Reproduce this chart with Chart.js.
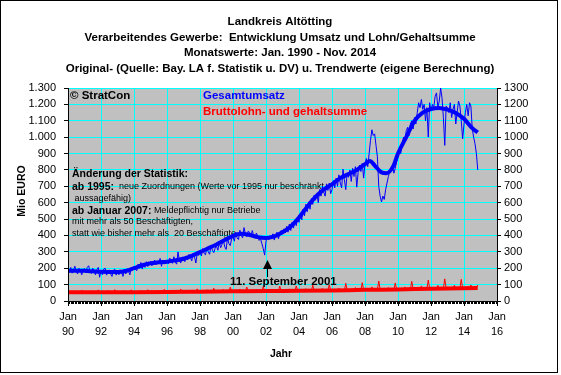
<!DOCTYPE html>
<html>
<head>
<meta charset="utf-8">
<script src="https://cdn.jsdelivr.net/npm/chart.js@4"></script>
<style>
  html, body { margin: 0; padding: 0; background: #fff; }
  #chart { display: block; }
</style>
</head>
<body>
<canvas id="chart" width="561" height="375"></canvas>
<script>
// Monatswerte Gesamtumsatz (Mio EURO), Jan 1990 - Nov 2014
const startYear = 1990;
const umsatz = [
  195,175,205,170,190,212,180,165,200,185,160,192,
  198,172,205,215,180,168,200,178,160,192,205,145,
  185,160,195,200,158,176,190,165,150,188,195,158,
  180,160,190,175,150,195,165,198,182,160,205,192,
  210,195,185,225,200,235,195,225,205,240,210,228,
  240,215,235,250,222,245,230,260,212,248,225,240,
  250,228,262,240,230,270,238,225,300,245,232,268,
  262,240,275,250,285,265,245,290,268,232,292,278,
  300,275,320,290,282,330,300,285,340,310,295,322,
  335,310,358,325,345,372,330,315,385,350,338,380,
  390,365,420,385,375,432,400,385,448,410,392,425,
  420,395,430,400,385,415,398,370,380,350,320,280,
  365,390,375,400,385,410,372,400,420,380,405,430,
  410,440,415,455,420,470,430,480,445,495,460,510,
  480,530,495,560,520,590,545,605,560,625,590,645,
  615,655,600,680,640,700,665,640,715,675,720,655,
  680,735,690,750,700,770,720,690,805,740,680,780,
  755,800,730,810,760,820,695,785,830,790,840,750,
  840,870,820,900,980,1045,1010,1020,950,880,700,640,
  605,640,620,680,720,760,790,800,830,780,810,850,
  880,920,900,960,1000,980,1040,1060,1010,1080,1100,1050,
  1120,1080,1150,1210,1180,1230,1170,1200,1100,1180,1000,1210,
  1160,1200,1180,1250,1270,1180,1220,1300,1240,1120,950,1190,
  1180,1150,1210,1120,1170,1200,1080,1150,1220,1190,1100,990,
  1080,1150,1200,1130,1210,1190,1050,1000,960,900,800
];

// Monatswerte Bruttolohn- und Gehaltsumme (Mio EURO)
const lohn = [
  50,49,51,50,50,62,51,50,50,51,66,55,
  51,50,52,51,51,63,52,51,51,52,68,56,
  52,51,52,52,53,64,53,52,52,53,69,56,
  52,51,52,52,52,63,52,51,52,52,68,55,
  52,51,53,52,53,64,53,52,53,53,69,56,
  53,52,53,53,54,66,54,53,54,54,71,57,
  53,52,54,53,54,66,54,53,54,54,72,57,
  54,53,54,54,55,67,55,54,55,55,74,58,
  55,54,55,55,56,69,56,55,56,56,78,59,
  56,55,56,56,57,70,57,56,57,57,84,60,
  57,56,57,57,58,72,58,57,58,58,85,61,
  58,57,58,58,59,72,59,58,59,59,88,62,
  58,57,58,59,59,73,59,58,59,60,90,62,
  59,58,59,59,60,74,60,59,60,60,92,63,
  60,59,60,60,61,75,61,60,61,61,96,64,
  60,59,61,61,62,76,62,61,62,62,100,65,
  61,60,62,62,63,78,63,62,63,63,108,66,
  63,62,64,64,65,82,65,64,66,66,112,68,
  66,65,67,67,68,86,68,67,69,69,122,71,
  68,66,67,66,67,82,66,65,66,67,110,69,
  67,66,68,68,69,86,70,69,70,71,120,73,
  71,70,72,72,73,92,73,72,74,74,128,76,
  73,72,74,74,75,95,75,74,76,76,135,78,
  74,73,75,75,76,96,76,75,77,77,132,79,
  75,74,76,76,77,98,77,76,78,78,98
];

// Trendwerte (eigene Berechnung)
const trendYears = [1990,1990.5,1991,1991.5,1992,1992.5,1993,1993.5,1994,1994.5,1995,1995.5,1996,1996.5,1997,1997.5,1998,1998.5,1999,1999.5,2000,2000.5,2001,2001.5,2002,2002.5,2003,2003.5,2004,2004.5,2005,2005.5,2006,2006.5,2007,2007.5,2008,2008.3,2008.6,2009,2009.3,2009.7,2010,2010.5,2011,2011.5,2012,2012.5,2013,2013.5,2014,2014.5,2014.83];
const trendUmsatz = [185,185,184,181,178,177,177,183,200,218,230,236,240,248,258,276,298,322,345,372,398,410,403,390,385,395,420,455,510,575,635,680,712,750,775,800,835,855,825,785,780,820,900,1000,1100,1150,1172,1178,1168,1148,1112,1055,1028];
const trendLohnYears = [1990,1992,1994,1996,1998,2000,2002,2004,2006,2008,2010,2012,2014.83];
const trendLohn = [53,54,54,55,57,59,61,62,64,68,70,75,79];

const titleLines = [
  'Landkreis Altötting',
  'Verarbeitendes Gewerbe:  Entwicklung Umsatz und Lohn/Gehaltsumme',
  'Monatswerte: Jan. 1990 - Nov. 2014',
  'Original- (Quelle: Bay. LA f. Statistik u. DV) u. Trendwerte (eigene Berechnung)'
];

const FONT = '"Liberation Sans", Arial, sans-serif';
const monthPoints = (arr) => arr.map((v, i) => ({ x: startYear + i / 12, y: v }));
const pairPoints = (xs, ys) => xs.map((x, i) => ({ x: x, y: ys[i] }));

function fmtDe(v) {
  if (v >= 1000) return Math.floor(v / 1000) + '.' + String(v % 1000).padStart(3, '0');
  return String(v);
}

const frame = {
  id: 'frame',
  beforeDraw(chart) {
    const { ctx, chartArea: a } = chart;
    ctx.save();
    ctx.fillStyle = '#fff';
    ctx.fillRect(0, 0, chart.width, chart.height);
    ctx.fillStyle = '#c0c0c0';
    ctx.fillRect(a.left, a.top, a.right - a.left, a.bottom - a.top);
    ctx.restore();
  },
  beforeDatasetsDraw(chart) {
    const ctx = chart.ctx;
    ctx.save();
    ctx.textBaseline = 'middle';
    ctx.textAlign = 'left';
    ctx.fillStyle = '#000';
    ctx.font = 'bold 11.5px ' + FONT;
    ctx.fillText('© StratCon', 70, 96);
    ctx.fillStyle = '#0000ff';
    ctx.fillText('Gesamtumsatz', 203, 96);
    ctx.fillStyle = '#ff0000';
    ctx.fillText('Bruttolohn- und gehaltsumme', 203, 112);

    const bold = 'bold 10.5px ' + FONT;
    const norm = '9px ' + FONT;
    const lines = [
      [['Änderung der Statistik:', bold]],
      [['ab 1995:', bold], ['  neue Zuordnungen (Werte vor 1995 nur beschränkt', norm]],
      [[' aussagefähig)', norm]],
      [['ab Januar 2007:', bold], [' Meldepflichtig nur Betriebe', norm]],
      [['mit mehr als 50 Beschäftigten,', norm]],
      [['statt wie bisher mehr als  20 Beschäftigte', norm]]
    ];
    const ys = [174, 187, 199, 211, 222, 234];
    ctx.fillStyle = '#000';
    lines.forEach((parts, i) => {
      let x = 72;
      parts.forEach(([t, f]) => {
        ctx.font = f;
        ctx.fillText(t, x, ys[i]);
        x += ctx.measureText(t).width;
      });
    });
    ctx.restore();
  },
  afterDraw(chart) {
    const { ctx, chartArea: a, scales } = chart;
    const xs = scales.x, ys = scales.y;
    ctx.save();
    // axes
    ctx.strokeStyle = '#000';
    ctx.lineWidth = 1;
    ctx.beginPath();
    ctx.moveTo(a.left + 0.5, a.top);
    ctx.lineTo(a.left + 0.5, a.bottom + 0.5);
    ctx.lineTo(a.right + 0.5, a.bottom + 0.5);
    ctx.lineTo(a.right + 0.5, a.top);
    ctx.stroke();
    // minor ticks on x axis
    ctx.beginPath();
    for (let m = 0; m <= 26 * 12; m++) {
      const px = Math.round(xs.getPixelForValue(startYear + m / 12)) + 0.5;
      ctx.moveTo(px, a.bottom + 1);
      ctx.lineTo(px, a.bottom + 3);
    }
    ctx.stroke();

    // arrow pointing at 11. September 2001
    const ax = Math.round(xs.getPixelForValue(2002.05)) + 0.5;
    const tipY = ys.getPixelForValue(250);
    const baseY = ys.getPixelForValue(146);
    ctx.beginPath();
    ctx.moveTo(ax, tipY + 6);
    ctx.lineTo(ax, baseY);
    ctx.stroke();
    ctx.fillStyle = '#000';
    ctx.beginPath();
    ctx.moveTo(ax, tipY);
    ctx.lineTo(ax - 4.5, tipY + 9);
    ctx.lineTo(ax + 4.5, tipY + 9);
    ctx.closePath();
    ctx.fill();
    ctx.textBaseline = 'middle';
    ctx.textAlign = 'left';
    ctx.font = 'bold 11.5px ' + FONT;
    ctx.fillText('11. September 2001', 230, 282);

    // title
    ctx.textAlign = 'center';
    ctx.font = 'bold 11.5px ' + FONT;
    const tys = [22, 37.5, 53, 68.5];
    titleLines.forEach((t, i) => ctx.fillText(t, 280, tys[i]));

    // axis titles
    ctx.font = 'bold 10.5px ' + FONT;
    ctx.fillText('Jahr', 281, 354);
    ctx.save();
    ctx.translate(22, 191);
    ctx.rotate(-Math.PI / 2);
    ctx.fillText('Mio EURO', 0, 0);
    ctx.restore();

    // outer frame
    ctx.strokeStyle = '#000';
    ctx.strokeRect(0.5, 0.5, 557, 372);
    ctx.restore();
  }
};

const ctx = document.getElementById('chart').getContext('2d');
const chart = new Chart(ctx, {
  type: 'line',
  data: {
    datasets: [
      {
        label: 'Trend Gesamtumsatz',
        data: pairPoints(trendYears, trendUmsatz),
        borderColor: '#0000ff',
        borderWidth: 4,
        cubicInterpolationMode: 'monotone',
        pointRadius: 0,
        yAxisID: 'y'
      },
      {
        label: 'Trend Bruttolohn',
        data: pairPoints(trendLohnYears, trendLohn),
        borderColor: '#ff0000',
        borderWidth: 4,
        cubicInterpolationMode: 'monotone',
        pointRadius: 0,
        yAxisID: 'y'
      },
      {
        label: 'Gesamtumsatz',
        data: monthPoints(umsatz),
        borderColor: '#0000ff',
        borderWidth: 1,
        tension: 0,
        pointRadius: 0,
        yAxisID: 'y'
      },
      {
        label: 'Bruttolohn- und gehaltsumme',
        data: monthPoints(lohn),
        borderColor: '#ff0000',
        borderWidth: 1,
        tension: 0,
        pointRadius: 0,
        yAxisID: 'y'
      }
    ]
  },
  options: {
    responsive: false,
    animation: false,
    layout: { padding: { top: 88, left: 0, right: 0, bottom: 0 } },
    plugins: {
      legend: { display: false },
      title: { display: false },
      tooltip: { enabled: false }
    },
    scales: {
      x: {
        type: 'linear',
        min: 1990,
        max: 2016,
        border: { display: false },
        grid: { color: '#00ffff', lineWidth: 1, tickColor: '#000', tickLength: 5 },
        ticks: {
          stepSize: 2,
          autoSkip: false,
          maxRotation: 0,
          padding: 4,
          color: '#000',
          font: { family: FONT, size: 11, lineHeight: 1.35 },
          callback: (v) => ['Jan', String(v % 100).padStart(2, '0')]
        },
        afterFit: (s) => { s.height = 74; }
      },
      y: {
        position: 'left',
        min: 0,
        max: 1300,
        border: { display: false },
        grid: { color: '#00ffff', lineWidth: 1, tickColor: '#000', tickLength: 4 },
        ticks: {
          stepSize: 100,
          padding: 8,
          color: '#000',
          font: { family: FONT, size: 11 },
          callback: (v) => fmtDe(v)
        },
        afterFit: (s) => { s.width = 68; }
      },
      y2: {
        position: 'right',
        min: 0,
        max: 1300,
        border: { display: false },
        grid: { drawOnChartArea: false, tickColor: '#000', tickLength: 4 },
        ticks: {
          stepSize: 100,
          padding: 3,
          color: '#000',
          font: { family: FONT, size: 11 },
          callback: (v) => String(v)
        },
        afterFit: (s) => { s.width = 64; }
      }
    }
  },
  plugins: [frame]
});
</script>
</body>
</html>
